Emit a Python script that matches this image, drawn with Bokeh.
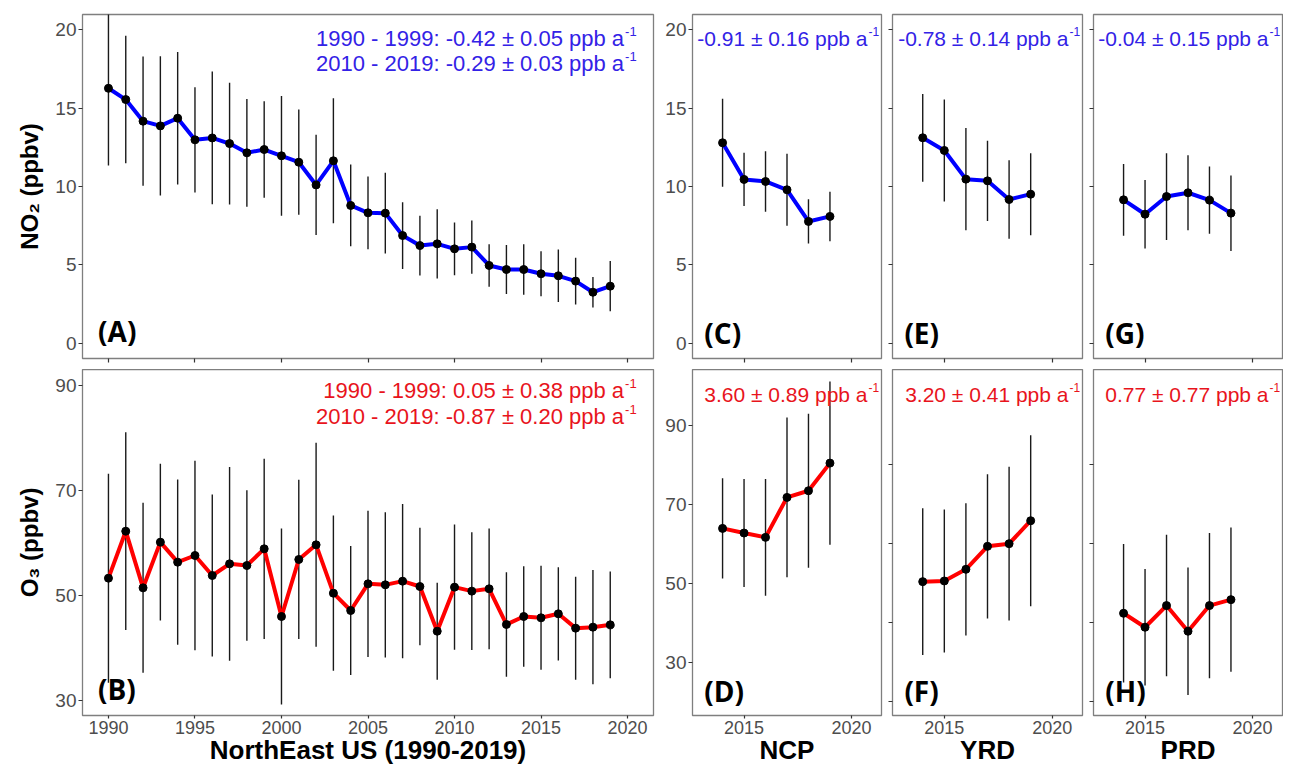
from bokeh.plotting import figure
from bokeh.models import Range1d, FixedTicker, Label
from bokeh.layouts import row, column
from bokeh.embed import file_html
from bokeh.resources import INLINE

# ---------------- data ----------------
years_ne = list(range(1990, 2020))
no2_ne = [16.27, 15.55, 14.17, 13.87, 14.36, 12.98, 13.10, 12.74, 12.15, 12.36,
          11.96, 11.55, 10.10, 11.64, 8.79, 8.32, 8.30, 6.87, 6.23, 6.34,
          6.02, 6.13, 4.96, 4.70, 4.70, 4.43, 4.30, 3.96, 3.25, 3.64]
no2_ne_sd = [4.93, 4.07, 4.13, 4.44, 4.23, 3.36, 4.24, 3.89, 3.44, 3.08,
             3.82, 3.36, 3.20, 3.99, 2.61, 2.32, 2.57, 2.13, 1.91, 2.21,
             1.68, 1.70, 1.36, 1.56, 1.61, 1.43, 1.68, 1.49, 0.98, 1.61]
o3_ne = [53.30, 62.25, 51.46, 60.16, 56.35, 57.62, 53.81, 56.03, 55.71, 58.89,
         46.00, 56.86, 59.65, 50.44, 47.14, 52.22, 52.03, 52.73, 51.71, 43.20,
         51.59, 50.83, 51.27, 44.48, 46.00, 45.75, 46.51, 43.78, 43.97, 44.41]
o3_ne_sd = [19.90, 18.83, 16.19, 14.92, 15.75, 18.06, 15.43, 18.44, 14.35, 17.17,
            16.76, 15.17, 19.43, 14.79, 12.29, 13.94, 13.84, 14.70, 11.21, 9.24,
            11.94, 11.21, 11.49, 9.97, 9.59, 9.90, 8.89, 9.81, 10.89, 10.16]

years_cn = [2014, 2015, 2016, 2017, 2018, 2019]
no2_ncp = [12.79, 10.45, 10.32, 9.79, 7.77, 8.09]
no2_ncp_sd = [2.81, 1.70, 1.93, 2.30, 1.41, 1.58]
no2_yrd = [13.11, 12.30, 10.47, 10.36, 9.17, 9.51]
no2_yrd_sd = [2.80, 3.25, 3.27, 2.56, 2.51, 2.62]
no2_prd = [9.15, 8.23, 9.36, 9.60, 9.13, 8.30]
no2_prd_sd = [2.29, 2.19, 2.77, 2.40, 2.14, 2.41]
o3_ncp = [63.93, 62.75, 61.65, 71.78, 73.47, 80.47]
o3_ncp_sd = [12.70, 13.71, 14.77, 20.25, 19.54, 20.68]
o3_yrd = [50.43, 50.60, 53.55, 59.38, 60.05, 65.87]
o3_yrd_sd = [18.61, 18.14, 16.75, 18.27, 19.49, 21.69]
o3_prd = [42.41, 38.87, 44.36, 37.86, 44.36, 45.87]
o3_prd_sd = [17.55, 14.77, 17.93, 16.16, 18.40, 18.27]

ne_xticks = [1990, 1995, 2000, 2005, 2010, 2015, 2020]
cn_xticks = [2015, 2020]
no2_yticks = [0, 5, 10, 15, 20]
o3_ne_yticks = [30, 50, 70, 90]
o3_cn_yticks = [30, 50, 70, 90]
o3_cn_yticks_unlab = [20, 40, 60, 80]

trend_no2_ne = ["1990 - 1999: -0.42 \u00b1 0.05 ppb a", "2010 - 2019: -0.29 \u00b1 0.03 ppb a"]
trend_o3_ne = ["1990 - 1999: 0.05 \u00b1 0.38 ppb a", "2010 - 2019: -0.87 \u00b1 0.20 ppb a"]
trend_no2_cn = ["-0.91 \u00b1 0.16 ppb a", "-0.78 \u00b1 0.14 ppb a", "-0.04 \u00b1 0.15 ppb a"]
trend_o3_cn = ["3.60 \u00b1 0.89 ppb a", "3.20 \u00b1 0.41 ppb a", "0.77 \u00b1 0.77 ppb a"]
unit_sup = "-1"
panel_tags = ["(A)", "(B)", "(C)", "(D)", "(E)", "(F)", "(G)", "(H)"]
region_names = ["NorthEast US (1990-2019)", "NCP", "YRD", "PRD"]
y_titles = ["NO\u2082 (ppbv)", "O\u2083 (ppbv)"]

BLUE_LINE = "#0000ff"
RED_LINE = "#ff0000"
BLUE_TXT = "#3322e6"
RED_TXT = "#e8141c"
TICK_FONT = "Liberation Sans"
BOLD_FONT = "Open Sans"
TITLE_FONT = "Liberation Sans"


def style_axes(p, xticks, yticks, xlab, ylab):
    for ax, ticks, lab in ((p.xaxis[0], xticks, xlab), (p.yaxis[0], yticks, ylab)):
        ax.ticker = FixedTicker(ticks=ticks)
        ax.axis_line_color = None
        ax.major_tick_in = 0
        ax.major_tick_out = 4
        ax.major_tick_line_color = "#333333"
        ax.major_tick_line_width = 1.2
        ax.minor_tick_line_color = None
        ax.major_label_standoff = 2
        ax.major_label_text_font = TICK_FONT
        ax.major_label_text_color = "#4d4d4d"
        if lab:
            ax.major_label_text_font_size = "19px"
        else:
            ax.major_label_text_font_size = "0px"
            ax.major_label_overrides = {t: "" for t in ticks}
    if xlab:
        ax = p.xaxis[0]
        ax.major_tick_out = 3
        ax.major_label_standoff = 2
        ax.major_label_text_font_size = "18px"


def make_fig(w, h, lb, rb, tb, bb, xr, yr, xticks, yticks, xlab, ylab):
    p = figure(width=w, height=h, x_range=Range1d(*xr), y_range=Range1d(*yr),
               output_backend="svg", toolbar_location=None,
               min_border_left=lb, min_border_right=rb,
               min_border_top=tb, min_border_bottom=bb)
    p.xgrid.visible = False
    p.ygrid.visible = False
    p.outline_line_color = "#7f7f7f"
    p.outline_line_width = 1.3
    p.border_fill_color = "white"
    p.background_fill_color = "white"
    style_axes(p, xticks, yticks, xlab, ylab)
    return p


def set_title(ax, t, size, standoff):
    ax.axis_label = t
    ax.axis_label_text_font = TITLE_FONT
    ax.axis_label_text_font_style = "bold"
    ax.axis_label_text_font_size = size
    ax.axis_label_text_color = "black"
    ax.axis_label_standoff = standoff


def draw_series(p, xs, ys, sds, color):
    lo = [y - s for y, s in zip(ys, sds)]
    hi = [y + s for y, s in zip(ys, sds)]
    p.segment(x0=xs, y0=lo, x1=xs, y1=hi, line_color="#1a1a1a", line_width=1.4)
    p.line(xs, ys, line_color=color, line_width=4)
    p.scatter(xs, ys, size=8, fill_color="black", line_color="black")


def tag(p, x, y, t):
    p.add_layout(Label(x=x, y=y, text=t, text_font=BOLD_FONT, text_font_style="bold",
                       text_font_size="28px", text_color="black",
                       text_align="left", text_baseline="middle"))


def note(p, x, y, t, color, size, sup_size):
    # main text ends at x, the superscript "-1" starts at x
    p.add_layout(Label(x=x, y=y, text=t, text_font=TICK_FONT,
                       text_font_size=size, text_color=color,
                       text_align="right", text_baseline="middle"))
    p.add_layout(Label(x=x, y=y, text=unit_sup, text_font=TICK_FONT,
                       text_font_size=sup_size, text_color=color, x_offset=1, y_offset=7,
                       text_align="left", text_baseline="middle"))


NE_X = (1988.5, 2021.5)
CN_X = (2012.6, 2021.4)
NO2_Y = (-0.98, 20.98)
O3_NE_Y = (27.14, 93.05)
O3_CN_Y = (16.5, 104.2)

TOP_H, BOT_BB = 369, 53
BOT_H = 346 + BOT_BB           # 369 + 399 = 768
X_TITLE_SIZE, X_TITLE_STANDOFF = "26px", -2

# --- NE US ---
pA = make_fig(655, TOP_H, 82, 2, 14, 11, NE_X, NO2_Y, ne_xticks, no2_yticks, False, True)
draw_series(pA, years_ne, no2_ne, no2_ne_sd, BLUE_LINE)
set_title(pA.yaxis[0], y_titles[0], "24px", 9)
note(pA, 2019.8, 19.45, trend_no2_ne[0], BLUE_TXT, "22px", "13px")
note(pA, 2019.8, 17.85, trend_no2_ne[1], BLUE_TXT, "22px", "13px")
tag(pA, 1989.4, 0.75, panel_tags[0])

pB = make_fig(655, BOT_H, 82, 2, 0, BOT_BB, NE_X, O3_NE_Y, ne_xticks, o3_ne_yticks, True, True)
draw_series(pB, years_ne, o3_ne, o3_ne_sd, RED_LINE)
set_title(pB.yaxis[0], y_titles[1], "24px", 9)
set_title(pB.xaxis[0], region_names[0], X_TITLE_SIZE, X_TITLE_STANDOFF)
note(pB, 2019.8, 89.0, trend_o3_ne[0], RED_TXT, "22px", "13px")
note(pB, 2019.8, 84.1, trend_o3_ne[1], RED_TXT, "22px", "13px")
tag(pB, 1989.4, 32.1, panel_tags[1])

# --- China regions ---
cn_no2 = [(no2_ncp, no2_ncp_sd), (no2_yrd, no2_yrd_sd), (no2_prd, no2_prd_sd)]
cn_o3 = [(o3_ncp, o3_ncp_sd), (o3_yrd, o3_yrd_sd), (o3_prd, o3_prd_sd)]
geo = [(228, 37, 2), (201, 9, 2), (199, 9, 1)]
top_row, bot_row = [], []
for i in range(3):
    w, lb, rb = geo[i]
    first = i == 0
    pt = make_fig(w, TOP_H, lb, rb, 14, 11, CN_X, NO2_Y, cn_xticks, no2_yticks, False, first)
    draw_series(pt, years_cn, cn_no2[i][0], cn_no2[i][1], BLUE_LINE)
    note(pt, 2020.75, 19.45, trend_no2_cn[i], BLUE_TXT, "21px", "12px")
    tag(pt, 2013.15, 0.65, panel_tags[2 + 2 * i])
    top_row.append(pt)

    yt = o3_cn_yticks if first else o3_cn_yticks_unlab
    pb = make_fig(w, BOT_H, lb, rb, 0, BOT_BB, CN_X, O3_CN_Y, cn_xticks, yt, True, first)
    draw_series(pb, years_cn, cn_o3[i][0], cn_o3[i][1], RED_LINE)
    set_title(pb.xaxis[0], region_names[1 + i], X_TITLE_SIZE, X_TITLE_STANDOFF)
    note(pb, 2020.75, 97.9, trend_o3_cn[i], RED_TXT, "21px", "12px")
    tag(pb, 2013.15, 22.8, panel_tags[3 + 2 * i])
    bot_row.append(pb)

layout = row(column(pA, pB), column(row(*top_row), row(*bot_row)))
open("out.html", "w").write(file_html(layout, INLINE))
